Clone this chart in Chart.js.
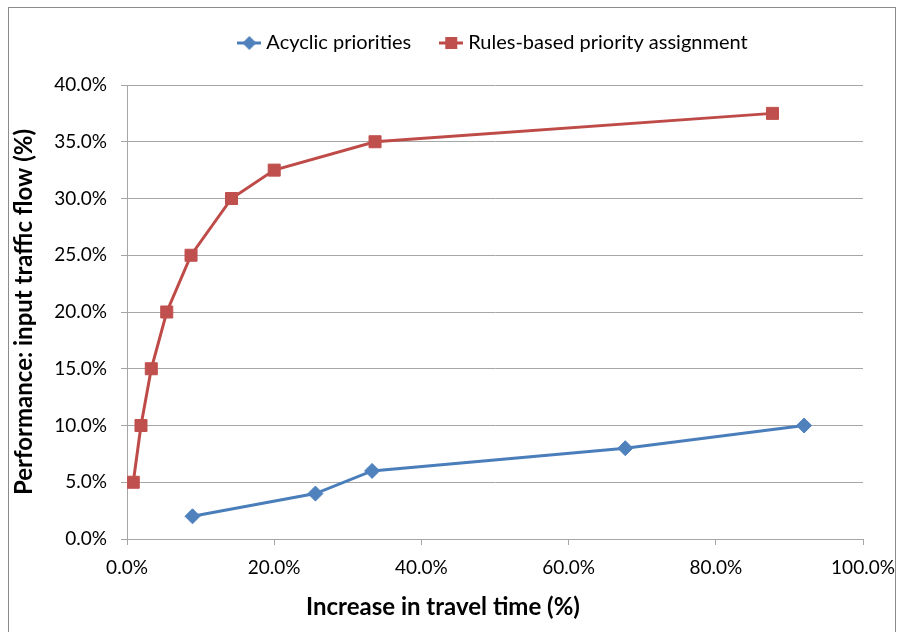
<!DOCTYPE html>
<html><head><meta charset="utf-8">
<script src="https://cdn.jsdelivr.net/npm/chart.js@4"></script>
<style>html,body{margin:0;padding:0;background:#fff}#wrap{width:898px;height:632px;position:relative}</style>
</head><body><div id="wrap"><canvas id="c"></canvas></div>
<script>
const seriesNames = ['Acyclic priorities', 'Rules-based priority assignment'];
const acyclicX = [8.9, 25.6, 33.3, 67.7, 92.0];
const acyclicY = [2, 4, 6, 8, 10];
const rulesX = [0.85, 1.9, 3.3, 5.4, 8.7, 14.2, 20.0, 33.7, 87.7];
const rulesY = [5, 10, 15, 20, 25, 30, 32.5, 35, 37.5];
const xTitle = 'Increase in travel time (%)';
const yTitle = 'Performance: input traffic flow (%)';

const FONT = "Lato, 'Open Sans', 'Liberation Sans', sans-serif";
const BLUE_LINE = '#4A7EBB', BLUE_MK = '#4F81BD';
const RED_LINE = '#BE4B48', RED_MK = '#C0504D';
const GRID = '#a6a6a6';

function legendIcon(lineColor, mkColor, shape) {
  const cv = document.createElement('canvas');
  cv.width = 24; cv.height = 16;
  const g = cv.getContext('2d');
  g.strokeStyle = lineColor; g.lineWidth = 3;
  g.beginPath(); g.moveTo(0, 8); g.lineTo(24, 8); g.stroke();
  g.fillStyle = mkColor;
  g.beginPath();
  if (shape === 'diamond') { g.moveTo(12, 1); g.lineTo(19, 8); g.lineTo(12, 15); g.lineTo(5, 8); g.closePath(); }
  else { g.rect(6, 2, 12, 12); }
  g.fill();
  return cv;
}
const iconBlue = legendIcon(BLUE_LINE, BLUE_MK, 'diamond');
const iconRed = legendIcon(RED_LINE, RED_MK, 'square');

const toPts = (xs, ys) => xs.map((x, i) => ({x, y: ys[i]}));

const framePlugin = {
  id: 'frame',
  beforeInit(chart) {
    const lg = chart.legend;
    if (lg) { const f = lg.fit; lg.fit = function () { f.call(this); this.height = 85; }; }
  },
  beforeDraw(chart) {
    const c = chart.ctx;
    c.save(); c.fillStyle = '#fff'; c.fillRect(0, 0, chart.width, chart.height);
    c.strokeStyle = '#8c8c8c'; c.lineWidth = 1; c.strokeRect(8.5, 7.5, 887, 640); c.restore();
  },
  afterDraw(chart) {
    const c = chart.ctx;
    c.save(); c.fillStyle = '#000'; c.font = 'bold 24px ' + FONT;
    c.textAlign = 'center'; c.textBaseline = 'middle';
    c.fillText(xTitle, 443, 607); c.restore();
  }
};

new Chart(document.getElementById('c'), {
  type: 'scatter',
  data: {
    datasets: [
      { label: seriesNames[0], data: toPts(acyclicX, acyclicY), showLine: true,
        borderColor: BLUE_LINE, backgroundColor: BLUE_MK, borderWidth: 3,
        pointStyle: 'rectRot', pointRadius: 7.5, pointHoverRadius: 7.5,
        pointBackgroundColor: BLUE_MK, pointBorderColor: BLUE_MK, pointBorderWidth: 1 },
      { label: seriesNames[1], data: toPts(rulesX, rulesY), showLine: true,
        borderColor: RED_LINE, backgroundColor: RED_MK, borderWidth: 3,
        pointStyle: 'rect', pointRadius: 8.5, pointHoverRadius: 8.5,
        pointBackgroundColor: RED_MK, pointBorderColor: RED_MK, pointBorderWidth: 1 }
    ]
  },
  options: {
    responsive: true, maintainAspectRatio: false, animation: false,
    layout: { padding: { left: 0, right: 35, top: 0, bottom: 0 } },
    plugins: {
      tooltip: { enabled: false },
      legend: {
        position: 'top', fullSize: false,
        labels: {
          usePointStyle: true, pointStyleWidth: 14, padding: 33, color: '#000',
          font: { family: FONT, size: 20 },
          generateLabels(chart) {
            return chart.data.datasets.map((d, i) => ({
              text: d.label, pointStyle: i === 0 ? iconBlue : iconRed,
              fillStyle: d.backgroundColor, strokeStyle: d.borderColor, lineWidth: 0,
              fontColor: '#000', hidden: false, datasetIndex: i }));
          }
        }
      }
    },
    scales: {
      x: {
        type: 'linear', min: 0, max: 100,
        afterFit(s) { s.height = 93; s.paddingRight = 0; s.paddingLeft = 0; },
        ticks: { stepSize: 20, padding: 11, color: '#000', font: { family: FONT, size: 19 },
          callback: v => v.toFixed(1) + '%' },
        grid: { drawOnChartArea: false, drawTicks: true, tickLength: 6, color: GRID },
        border: { color: GRID, width: 1 }
      },
      y: {
        type: 'linear', min: 0, max: 40,
        afterFit(s) { s.width = 127; },
        ticks: { stepSize: 5, padding: 14, color: '#000', font: { family: FONT, size: 19 },
          callback: v => v.toFixed(1) + '%' },
        grid: { color: GRID, tickLength: 6, drawTicks: true },
        border: { color: GRID, width: 1 },
        title: { display: true, text: yTitle, color: '#000', padding: { top: 10, bottom: 0 },
          font: { family: FONT, size: 24, weight: 'bold' } }
      }
    }
  },
  plugins: [framePlugin]
});
</script></body></html>
